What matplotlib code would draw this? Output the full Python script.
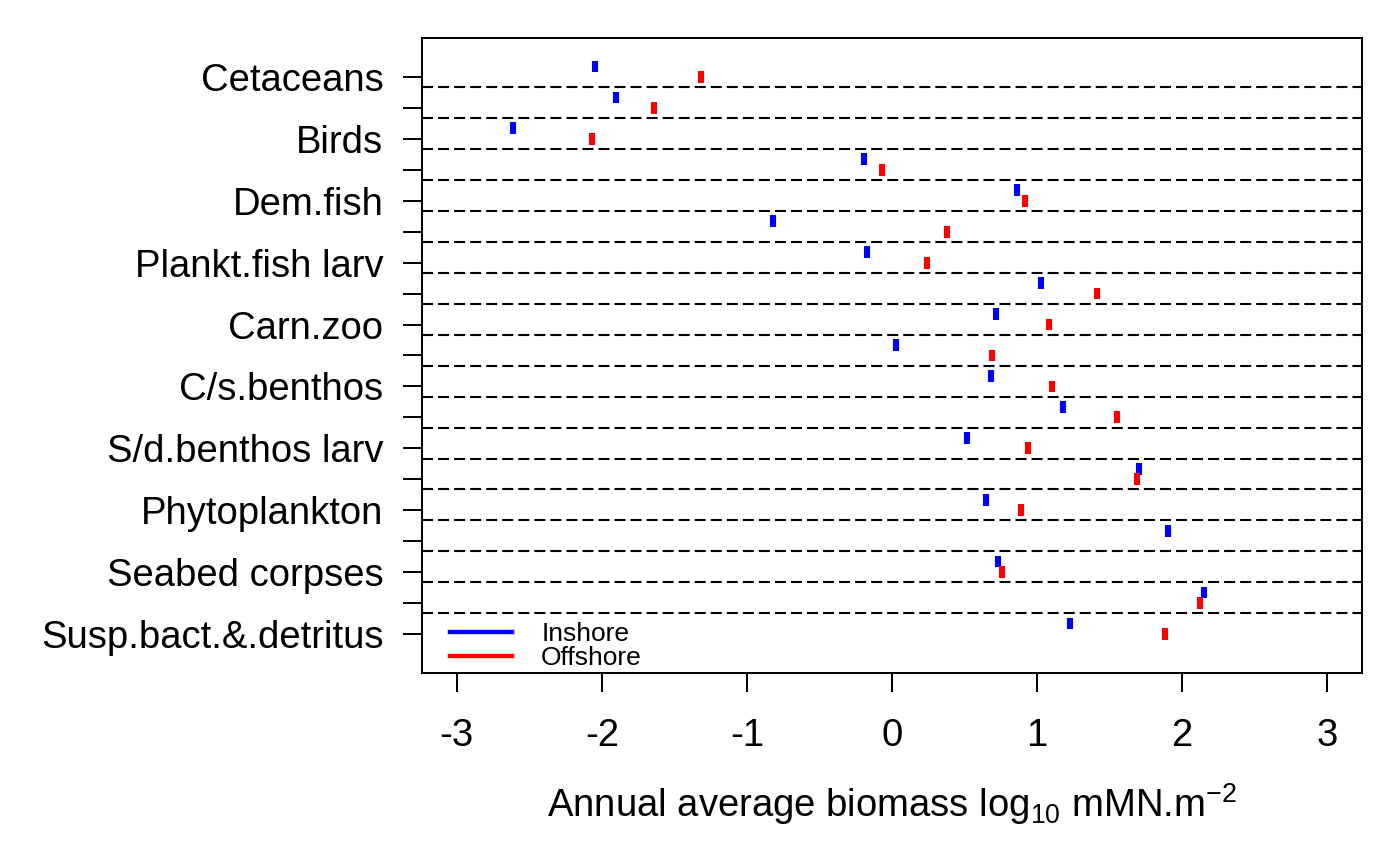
import numpy as np
import matplotlib.pyplot as plt

plt.rcParams['font.family'] = ['Liberation Sans', 'DejaVu Sans']
plt.rcParams['mathtext.fontset'] = 'custom'
plt.rcParams['mathtext.rm'] = 'Liberation Sans'
plt.rcParams['mathtext.it'] = 'Liberation Sans'

# groupes du modele, de haut en bas
groups = ["Cetaceans", "Pinnipeds", "Birds", "Mig.fish", "Dem.fish",
          "Dem.fish larv", "Plankt.fish larv", "Plankt.fish", "Carn.zoo",
          "C/s.benthos larv", "C/s.benthos", "S/d.benthos", "S/d.benthos larv",
          "Omniv.zoo", "Phytoplankton", "Macrophytes", "Seabed corpses",
          "Seabed detritus", "Susp.bact.&.detritus"]

# biomasse moyenne annuelle, log10 mMN.m-2
inshore = [-2.05, -1.90, -2.61, -0.19, 0.86, -0.82, -0.17, 1.03, 0.72,
           0.03, 0.68, 1.18, 0.52, 1.70, 0.65, 1.90, 0.73, 2.15, 1.23]
offshore = [-1.32, -1.64, -2.07, -0.07, 0.92, 0.38, 0.24, 1.41, 1.08,
            0.69, 1.10, 1.55, 0.94, 1.69, 0.89, np.nan, 0.76, 2.12, 1.88]

xticks = [-3, -2, -1, 0, 1, 2, 3]

fig = plt.figure(figsize=(14, 8.66), dpi=100)
ax = fig.add_axes([0.3014, 0.2229, 0.6715, 0.7332])

pos = np.arange(len(groups))

# lignes pointillees entre les groupes
for y in pos[:-1]:
    ax.axhline(y + 0.33, color='black', lw=1.5, linestyle=(0, (5.3, 2.4)), zorder=1)

h = 0.19
ax.vlines(inshore, pos - 0.34 - h, pos - 0.34 + h, colors='#0000ff', lw=4.4,
          capstyle='butt', zorder=3)
ax.vlines(offshore, pos - h, pos + h, colors='#ff0000', lw=4.4,
          capstyle='butt', zorder=3)

ax.set_xlim(-3.24, 3.24)
ax.set_ylim(19.26, -1.26)

ax.set_xticks(xticks)
ax.set_xticklabels([str(t) for t in xticks])
ax.set_yticks(pos)
ax.set_yticklabels([g if i % 2 == 0 else "" for i, g in enumerate(groups)])

ax.tick_params(axis='both', direction='out', length=13.7, width=1.44,
               labelsize=27.5)
ax.tick_params(axis='y', pad=14)
ax.tick_params(axis='x', pad=19)
for s in ax.spines.values():
    s.set_linewidth(1.44)

ax.set_xlabel('Annual average biomass log$_{10}$ mMN.m$^{-2}$', fontsize=27.5,
              labelpad=19)

ax.plot([], [], color='#0000ff', lw=3.2, label='Inshore')
ax.plot([], [], color='#ff0000', lw=3.2, label='Offshore')
ax.legend(loc='lower left', bbox_to_anchor=(0.03, 0.004), frameon=False,
          fontsize=19, handlelength=2.35, handletextpad=1.1,
          labelspacing=0.0, borderpad=0, borderaxespad=0)

fig.savefig('out.png', dpi=100)
